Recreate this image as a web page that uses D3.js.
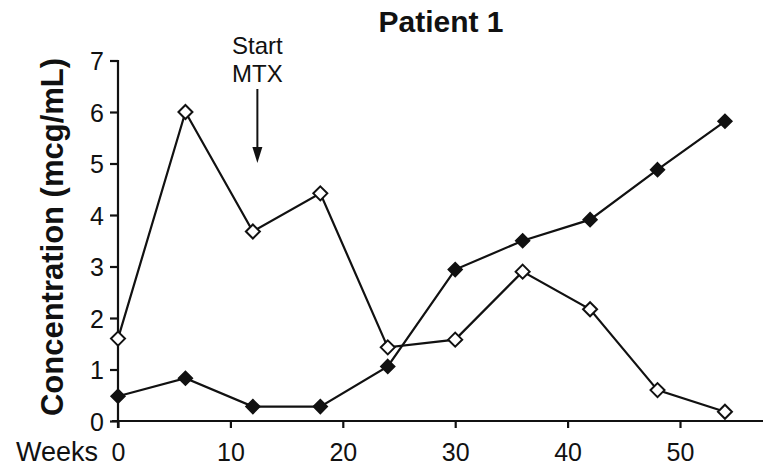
<!DOCTYPE html>
<html><head><meta charset="utf-8">
<script src="https://cdn.jsdelivr.net/npm/d3@7"></script>
<style>body{margin:0;background:#fff}text{font-family:"Liberation Sans",Arial,sans-serif;fill:#111}</style>
</head><body><svg id="c" width="763" height="466"></svg>
<script>
const weeks = [0, 6, 12, 18, 24, 30, 36, 42, 48, 54];
const openSeries = [1.6, 6.0, 3.68, 4.42, 1.43, 1.58, 2.9, 2.17, 0.6, 0.18];
const filledSeries = [0.48, 0.83, 0.28, 0.28, 1.06, 2.94, 3.5, 3.91, 4.88, 5.82];
const xTicks = [0, 10, 20, 30, 40, 50];
const yTicks = [0, 1, 2, 3, 4, 5, 6, 7];
const mtxWeek = 12.4;

const svg = d3.select("#c");
const x = d3.scaleLinear().domain([0, 50]).range([118, 680]);
const y = d3.scaleLinear().domain([0, 7]).range([421, 60.5]);

// axes
const xa = svg.append("g").attr("transform", "translate(0,421)")
  .call(d3.axisBottom(x).tickValues(xTicks).tickSize(7).tickPadding(5).tickFormat(d3.format("d")));
xa.select(".domain").attr("d", `M112,0H763`).attr("stroke", "#111").attr("stroke-width", 2.2);
xa.selectAll(".tick line").attr("stroke", "#111").attr("stroke-width", 2.2);
xa.selectAll("text").attr("font-size", 25).attr("y", 40).attr("dy", null);

const ya = svg.append("g").attr("transform", "translate(118,0)")
  .call(d3.axisLeft(y).tickValues(yTicks).tickSize(8).tickPadding(6).tickFormat(d3.format("d")));
ya.select(".domain").attr("d", `M0,60V428`).attr("stroke", "#111").attr("stroke-width", 2.2);
ya.selectAll(".tick line").attr("stroke", "#111").attr("stroke-width", 2.2);
ya.selectAll("text").attr("font-size", 25).attr("dy", "0.36em");
svg.selectAll(".tick text").style("fill", "#111");

svg.append("text").attr("x", 98).attr("y", 461).attr("text-anchor", "end")
  .attr("font-size", 27).text("Weeks");

svg.append("text").attr("transform", "translate(63,237) rotate(-90)")
  .attr("text-anchor", "middle").attr("font-size", 31).attr("font-weight", "bold")
  .text("Concentration (mcg/mL)");

svg.append("text").attr("x", 441).attr("y", 32).attr("text-anchor", "middle")
  .attr("font-size", 30).attr("font-weight", "bold").text("Patient 1");

// annotation
svg.append("text").attr("x", x(mtxWeek)).attr("y", 54).attr("text-anchor", "middle")
  .attr("font-size", 24).text("Start");
svg.append("text").attr("x", x(mtxWeek)).attr("y", 82).attr("text-anchor", "middle")
  .attr("font-size", 24).text("MTX");
svg.append("line").attr("x1", x(mtxWeek)).attr("x2", x(mtxWeek)).attr("y1", 89).attr("y2", 152)
  .attr("stroke", "#111").attr("stroke-width", 2);
svg.append("path").attr("d", `M${x(mtxWeek)-5},147L${x(mtxWeek)+5},147L${x(mtxWeek)},163Z`).attr("fill", "#111");

const line = d3.line().x((d, i) => x(weeks[i])).y(d => y(d));
[openSeries, filledSeries].forEach(s => {
  svg.append("path").datum(s).attr("d", line).attr("fill", "none")
    .attr("stroke", "#111").attr("stroke-width", 2.2);
});
const diamond = d3.symbol().type(d3.symbolDiamond2).size(125);
svg.append("g").selectAll("path").data(openSeries).join("path")
  .attr("transform", (d, i) => `translate(${x(weeks[i])},${y(d)})`)
  .attr("d", diamond).attr("fill", "#fff").attr("stroke", "#111").attr("stroke-width", 2);
svg.append("g").selectAll("path").data(filledSeries).join("path")
  .attr("transform", (d, i) => `translate(${x(weeks[i])},${y(d)})`)
  .attr("d", diamond).attr("fill", "#111").attr("stroke", "#111").attr("stroke-width", 1.5);
</script></body></html>
